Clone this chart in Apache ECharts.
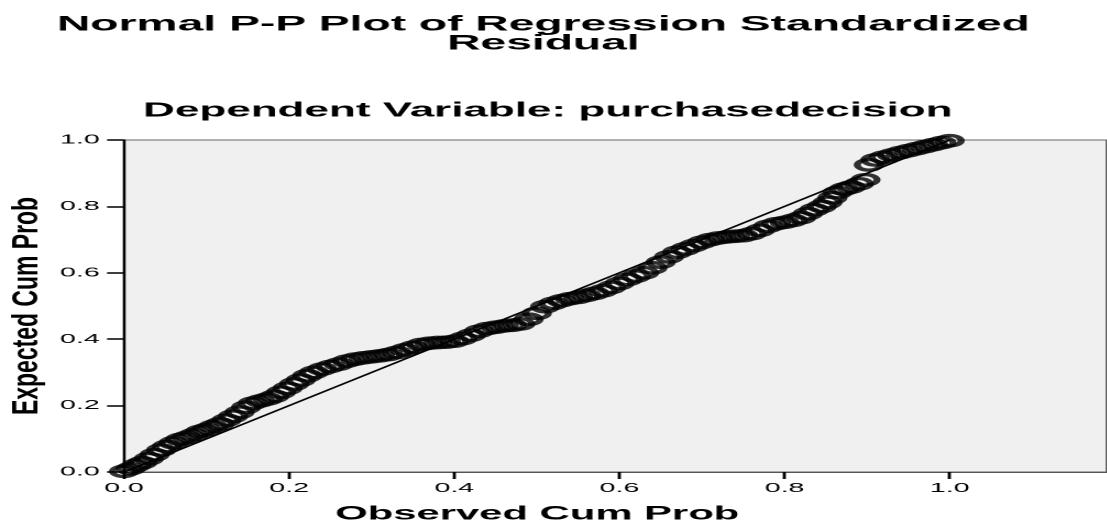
<!DOCTYPE html>
<html>
<head>
<meta charset="utf-8">
<title>Normal P-P Plot</title>
<script src="https://cdn.jsdelivr.net/npm/echarts@6/dist/echarts.min.js"></script>
<style>
  html, body { margin: 0; padding: 0; background: #fff; overflow: hidden; }
  /* the source picture is stretched sideways, so the chart is drawn narrow and scaled */
  #main { height: 529px; transform-origin: 0 0; }
</style>
</head>
<body>
<div id="main"></div>
<script>
// observed / expected cumulative probabilities
var observed = [0.000, 0.008, 0.015, 0.022, 0.030, 0.037, 0.045, 0.052, 0.060, 0.068,
  0.076, 0.084, 0.092, 0.100, 0.108, 0.116, 0.124, 0.132, 0.140, 0.148,
  0.156, 0.165, 0.174, 0.182, 0.190, 0.198, 0.206, 0.214, 0.222, 0.230,
  0.240, 0.250, 0.260, 0.270, 0.280, 0.290, 0.300, 0.310, 0.320, 0.330,
  0.340, 0.350, 0.360, 0.370, 0.380, 0.390, 0.400, 0.410, 0.420, 0.430,
  0.440, 0.450, 0.460, 0.470, 0.480, 0.490, 0.500, 0.510, 0.520, 0.530,
  0.540, 0.550, 0.560, 0.570, 0.580, 0.590, 0.600, 0.610, 0.620, 0.630,
  0.640, 0.650, 0.660, 0.670, 0.680, 0.690, 0.700, 0.710, 0.720, 0.730,
  0.740, 0.750, 0.760, 0.770, 0.780, 0.790, 0.800, 0.810, 0.820, 0.828,
  0.836, 0.845, 0.852, 0.858, 0.864, 0.872, 0.880, 0.890, 0.898, 0.902,
  0.910, 0.920, 0.930, 0.940, 0.950, 0.960, 0.970, 0.980, 0.990, 1.000];
var expected = [0.002, 0.010, 0.020, 0.028, 0.040, 0.052, 0.066, 0.077, 0.088, 0.098,
  0.104, 0.112, 0.122, 0.128, 0.137, 0.145, 0.156, 0.168, 0.180, 0.195,
  0.207, 0.214, 0.220, 0.228, 0.240, 0.252, 0.265, 0.277, 0.290, 0.300,
  0.310, 0.318, 0.325, 0.334, 0.340, 0.344, 0.347, 0.350, 0.354, 0.360,
  0.368, 0.376, 0.384, 0.388, 0.390, 0.391, 0.394, 0.402, 0.412, 0.424,
  0.432, 0.436, 0.440, 0.442, 0.446, 0.460, 0.478, 0.498, 0.508, 0.516,
  0.522, 0.526, 0.532, 0.538, 0.546, 0.556, 0.568, 0.580, 0.590, 0.600,
  0.615, 0.632, 0.648, 0.662, 0.672, 0.682, 0.692, 0.700, 0.705, 0.708,
  0.710, 0.712, 0.718, 0.728, 0.740, 0.748, 0.752, 0.758, 0.766, 0.778,
  0.790, 0.800, 0.812, 0.826, 0.842, 0.852, 0.858, 0.868, 0.880, 0.925,
  0.940, 0.948, 0.955, 0.962, 0.968, 0.974, 0.980, 0.986, 0.992, 0.998];
// reference diagonal
var diagX = [0, 1];
var diagY = [0, 1];

var S = 2.2;  // horizontal stretch
var dom = document.getElementById('main');
dom.style.width = (1107 / S) + 'px';
dom.style.transform = 'scaleX(' + S + ')';

var myChart = echarts.init(dom, null, { devicePixelRatio: 2 });

var points = observed.map(function (x, i) { return [x, expected[i]]; });
var diag = diagX.map(function (x, i) { return [x, diagY[i]]; });

function tickText(v) {
  var k = v * 5;
  if (Math.abs(k - Math.round(k)) > 1e-6 || v > 1.0001) return '';
  return v.toFixed(1);
}

var option = {
  animation: false,
  backgroundColor: '#ffffff',
  title: [{
    text: 'Normal P-P Plot of Regression Standardized\nResidual',
    left: 247, top: 15, padding: 0,
    textAlign: 'center',
    textStyle: { fontFamily: 'Liberation Sans', fontWeight: 'bold', fontSize: 21, lineHeight: 19, color: '#000' }
  }, {
    text: 'Dependent Variable: purchasedecision',
    left: 249, top: 101, padding: 0,
    textAlign: 'center',
    textStyle: { fontFamily: 'Liberation Sans', fontWeight: 'bold', fontSize: 20, color: '#000' }
  }],
  grid: {
    left: 124 / S, right: 0, top: 140, bottom: 54,
    show: true, backgroundColor: '#f0f0f0', borderColor: '#666', borderWidth: 1
  },
  xAxis: {
    type: 'value', min: 0, max: 1.19, interval: 0.2,
    name: 'Observed Cum Prob', nameLocation: 'middle', nameGap: 33,
    nameTextStyle: { fontFamily: 'Liberation Sans', fontWeight: 'bold', fontSize: 19, color: '#000', padding: [0, 71, 0, 0] },
    axisLine: { lineStyle: { color: '#555', width: 1 } },
    axisTick: { length: 7, lineStyle: { color: '#000', width: 1.4 } },
    axisLabel: { formatter: tickText, showMaxLabel: false, margin: 10, fontFamily: 'Liberation Sans', fontSize: 13, color: '#000' },
    splitLine: { show: false }
  },
  yAxis: {
    type: 'value', min: 0, max: 1, interval: 0.2,
    axisLine: { lineStyle: { color: '#000', width: 1.2 } },
    axisTick: { length: 7.7, lineStyle: { color: '#000', width: 1.5 } },
    axisLabel: { formatter: function (v) { return v.toFixed(1); }, margin: 11, fontFamily: 'Liberation Sans', fontSize: 13, color: '#000' },
    splitLine: { show: false }
  },
  graphic: [{
    type: 'text',
    x: 27 / S, y: 306,
    rotation: Math.PI / 2,
    scaleX: 1.35,
    style: {
      text: 'Expected Cum Prob',
      font: 'bold 17px "Liberation Sans"',
      fill: '#000',
      align: 'center', verticalAlign: 'middle'
    }
  }],
  series: [{
    type: 'line',
    data: diag,
    symbol: 'none',
    lineStyle: { color: '#000', width: 1.4 },
    silent: true
  }, {
    type: 'scatter',
    data: points,
    symbol: 'circle',
    symbolSize: 10.5,
    itemStyle: { color: 'rgba(255,255,255,0)', borderColor: '#000', borderWidth: 3.2 }
  }]
};
myChart.setOption(option);
</script>
</body>
</html>
